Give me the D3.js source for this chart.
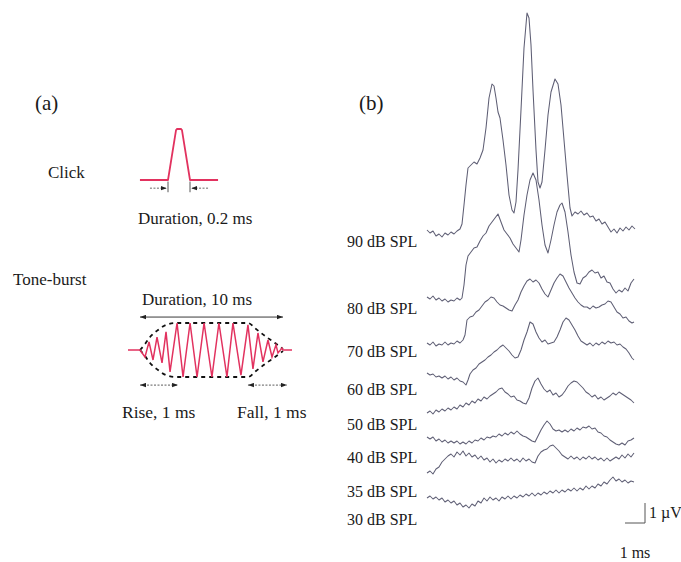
<!DOCTYPE html>
<html><head><meta charset="utf-8">
<script src="https://cdn.jsdelivr.net/npm/d3@7"></script>
<style>body{margin:0;background:#fff}svg{display:block}</style>
</head><body>
<script>
// ---------------- DATA ----------------
const levels = ["90 dB SPL","80 dB SPL","70 dB SPL","60 dB SPL","50 dB SPL","40 dB SPL","35 dB SPL","30 dB SPL"];
// ABR traces: [time (ms), amplitude (µV) relative to trace start]
const trace90 = [[0,0],[0.15,-0.15],[0.3,-0.05],[0.45,-0.3],[0.6,-0.2],[0.75,-0.35],[0.9,-0.15],[1.05,-0.25],[1.2,-0.1],[1.35,-0.2],[1.5,-0.05],[1.65,0.05],[1.75,0.3],[1.85,1.25],[1.95,2.25],[2.05,3.1],[2.2,3.25],[2.35,3.4],[2.5,3.3],[2.65,3.6],[2.8,4.0],[2.95,5.1],[3.1,6.6],[3.25,7.3],[3.35,7.2],[3.45,6.6],[3.55,5.9],[3.65,5.6],[3.8,4.5],[3.95,3.25],[4.1,1.75],[4.25,1.0],[4.35,0.85],[4.45,1.4],[4.55,3.0],[4.7,6.0],[4.85,9.1],[5.0,10.85],[5.1,10.6],[5.2,9.25],[5.3,7.0],[5.45,4.0],[5.55,2.4],[5.65,2.1],[5.75,2.4],[5.9,4.0],[6.05,5.75],[6.2,6.9],[6.4,7.55],[6.55,7.3],[6.7,6.25],[6.85,4.5],[7.0,2.75],[7.15,1.1],[7.25,0.7],[7.4,0.9],[7.55,0.8],[7.7,0.95],[7.85,0.75],[8.0,0.85],[8.15,0.65],[8.3,0.7],[8.45,0.45],[8.6,0.55],[8.75,0.3],[8.9,0.4],[9.05,0.15],[9.2,-0.1],[9.35,0.05],[9.5,-0.15],[9.65,0.1],[9.8,-0.05],[9.95,0.15],[10.1,0],[10.25,0.2],[10.4,0.05]];
const trace80 = [[0,0],[0.15,-0.1],[0.3,0.05],[0.45,-0.15],[0.6,-0.05],[0.75,-0.2],[0.9,-0.1],[1.05,-0.25],[1.2,-0.15],[1.35,-0.2],[1.5,-0.05],[1.65,-0.15],[1.75,-0.05],[1.85,0.6],[1.95,1.6],[2.05,2.05],[2.2,2.25],[2.35,2.45],[2.5,2.5],[2.65,2.8],[2.8,3.05],[2.95,3.2],[3.1,3.55],[3.25,3.75],[3.4,3.95],[3.55,4.15],[3.7,3.75],[3.85,3.35],[4.0,3.15],[4.15,2.95],[4.3,2.65],[4.45,2.45],[4.6,2.25],[4.7,2.85],[4.85,4.1],[5.0,5.1],[5.15,5.85],[5.3,6.2],[5.45,5.85],[5.6,4.85],[5.75,3.6],[5.9,2.6],[6.05,2.2],[6.2,2.85],[6.35,3.6],[6.5,4.25],[6.65,4.6],[6.75,4.7],[6.9,4.25],[7.05,3.25],[7.2,2.1],[7.35,1.25],[7.5,0.7],[7.65,0.65],[7.8,0.95],[7.95,1.05],[8.1,1.25],[8.25,1.35],[8.4,1.2],[8.55,1.25],[8.7,0.95],[8.85,1.05],[9.0,0.75],[9.15,0.7],[9.3,0.4],[9.45,0.2],[9.6,0.35],[9.75,0.25],[9.9,0.45],[10.05,0.3],[10.2,0.7],[10.35,0.9]];
const trace70 = [[0,0],[0.15,-0.1],[0.3,0.05],[0.45,-0.15],[0.6,-0.05],[0.75,-0.1],[0.9,0.05],[1.05,-0.1],[1.2,0],[1.35,-0.05],[1.5,0.1],[1.65,0],[1.8,0.15],[1.9,0.4],[2.0,1.15],[2.15,1.3],[2.3,1.35],[2.45,1.55],[2.6,1.65],[2.75,1.85],[2.9,2.05],[3.05,2.15],[3.2,2.3],[3.35,2.25],[3.5,2.05],[3.65,1.9],[3.8,1.85],[3.95,1.75],[4.1,1.65],[4.25,1.6],[4.4,1.9],[4.55,2.15],[4.7,2.55],[4.85,2.85],[5.0,3.1],[5.15,3.2],[5.3,3.05],[5.45,3.15],[5.6,3.0],[5.75,2.7],[5.9,2.45],[6.05,2.3],[6.2,2.65],[6.35,3.0],[6.5,3.25],[6.65,3.45],[6.8,3.35],[6.95,3.05],[7.1,2.75],[7.25,2.5],[7.4,2.25],[7.55,2.05],[7.7,1.9],[7.85,1.8],[8.0,1.8],[8.15,1.7],[8.3,1.85],[8.45,1.75],[8.6,1.8],[8.75,1.9],[8.9,1.95],[9.05,2.1],[9.2,2.05],[9.35,1.8],[9.5,1.55],[9.65,1.45],[9.8,1.25],[9.95,1.3],[10.1,1.1],[10.25,1.0],[10.35,1.05]];
const trace60 = [[0,0],[0.15,-0.1],[0.3,-0.05],[0.45,-0.2],[0.6,-0.15],[0.75,-0.25],[0.9,-0.15],[1.05,-0.3],[1.2,-0.2],[1.35,-0.35],[1.5,-0.25],[1.65,-0.4],[1.8,-0.45],[1.95,-0.6],[2.05,-0.35],[2.15,-0.05],[2.3,0.15],[2.45,0.25],[2.6,0.45],[2.75,0.55],[2.9,0.65],[3.05,0.8],[3.2,0.9],[3.35,1.05],[3.5,1.15],[3.65,1.3],[3.8,1.4],[3.95,1.25],[4.1,1.1],[4.25,0.9],[4.4,0.75],[4.55,0.8],[4.7,1.15],[4.85,1.65],[5.0,2.05],[5.15,2.55],[5.3,2.45],[5.45,2.05],[5.6,1.75],[5.75,1.55],[5.9,1.65],[6.05,1.45],[6.2,1.5],[6.35,1.55],[6.5,1.8],[6.65,2.15],[6.8,2.55],[6.95,2.75],[7.1,2.65],[7.25,2.4],[7.4,2.15],[7.55,1.85],[7.7,1.6],[7.85,1.5],[8.0,1.4],[8.15,1.5],[8.3,1.35],[8.45,1.5],[8.6,1.4],[8.75,1.55],[8.9,1.45],[9.05,1.6],[9.2,1.5],[9.35,1.55],[9.5,1.4],[9.65,1.45],[9.8,1.3],[9.95,1.2],[10.1,1.0],[10.25,0.75],[10.35,0.65]];
const trace50 = [[0,0],[0.15,0.1],[0.3,-0.05],[0.45,0.15],[0.6,0.05],[0.75,0.2],[0.9,0.1],[1.05,0.25],[1.2,0.15],[1.35,0.3],[1.5,0.2],[1.65,0.4],[1.8,0.3],[1.95,0.5],[2.1,0.4],[2.25,0.6],[2.4,0.5],[2.55,0.7],[2.7,0.6],[2.85,0.8],[3.0,0.7],[3.15,0.85],[3.3,0.95],[3.45,1.05],[3.6,1.2],[3.75,1.25],[3.9,1.05],[4.05,0.95],[4.2,0.8],[4.35,0.85],[4.5,0.65],[4.65,0.6],[4.8,0.5],[4.95,0.45],[5.1,0.75],[5.25,1.25],[5.4,1.6],[5.55,1.75],[5.7,1.45],[5.85,1.2],[6.0,1.05],[6.15,1.15],[6.3,0.9],[6.45,1.0],[6.6,0.8],[6.75,0.9],[6.9,1.1],[7.05,1.35],[7.2,1.5],[7.35,1.6],[7.5,1.55],[7.65,1.4],[7.8,1.25],[7.95,1.05],[8.1,0.95],[8.25,0.8],[8.4,0.9],[8.55,0.7],[8.7,0.8],[8.85,0.65],[9.0,0.75],[9.15,0.85],[9.3,1.0],[9.45,0.9],[9.6,1.05],[9.75,0.95],[9.9,0.85],[10.05,0.75],[10.2,0.65],[10.35,0.5]];
const trace40 = [[0,0],[0.15,-0.1],[0.3,0],[0.45,-0.2],[0.6,-0.1],[0.75,-0.25],[0.9,-0.15],[1.05,-0.3],[1.2,-0.2],[1.35,-0.3],[1.5,-0.2],[1.65,-0.35],[1.8,-0.25],[1.95,-0.35],[2.1,-0.2],[2.25,-0.3],[2.4,-0.15],[2.55,-0.2],[2.7,-0.05],[2.85,-0.15],[3.0,0],[3.15,-0.05],[3.3,0.05],[3.45,0],[3.6,0.15],[3.75,0.05],[3.9,0.2],[4.05,0.1],[4.2,0.25],[4.35,0.15],[4.5,0.3],[4.65,0.15],[4.8,0.05],[4.95,0],[5.1,-0.1],[5.25,-0.2],[5.4,-0.25],[5.55,0.05],[5.7,0.35],[5.85,0.6],[6.0,0.8],[6.15,0.65],[6.3,0.4],[6.45,0.3],[6.6,0.35],[6.75,0.25],[6.9,0.35],[7.05,0.25],[7.2,0.4],[7.35,0.3],[7.5,0.45],[7.65,0.35],[7.8,0.5],[7.95,0.45],[8.1,0.55],[8.25,0.4],[8.4,0.45],[8.55,0.25],[8.7,0.2],[8.85,0.05],[9.0,0],[9.15,-0.15],[9.3,-0.25],[9.45,-0.35],[9.6,-0.4],[9.75,-0.3],[9.9,-0.4],[10.05,-0.2],[10.2,-0.15],[10.35,-0.05]];
const trace35 = [[0,0],[0.15,0.1],[0.3,-0.05],[0.45,0.2],[0.6,0.3],[0.75,0.55],[0.9,0.7],[1.05,0.85],[1.2,0.95],[1.35,0.8],[1.5,1.05],[1.65,0.9],[1.8,1.1],[1.95,0.85],[2.1,1.0],[2.25,0.8],[2.4,0.9],[2.55,0.7],[2.7,0.85],[2.85,0.65],[3.0,0.75],[3.15,0.55],[3.3,0.7],[3.45,0.5],[3.6,0.65],[3.75,0.55],[3.9,0.7],[4.05,0.6],[4.2,0.75],[4.35,0.6],[4.5,0.7],[4.65,0.55],[4.8,0.75],[4.95,0.6],[5.1,0.7],[5.25,0.55],[5.4,0.5],[5.55,0.85],[5.7,1.05],[5.85,1.15],[6.0,1.2],[6.15,1.35],[6.3,1.4],[6.45,1.25],[6.6,1.1],[6.75,0.9],[6.9,0.8],[7.05,0.7],[7.2,0.85],[7.35,0.7],[7.5,0.8],[7.65,0.65],[7.8,0.8],[7.95,0.7],[8.1,0.85],[8.25,0.7],[8.4,0.8],[8.55,0.65],[8.7,0.75],[8.85,0.6],[9.0,0.75],[9.15,0.6],[9.3,0.7],[9.45,0.8],[9.6,0.7],[9.75,0.9],[9.9,0.75],[10.05,0.95],[10.2,0.8],[10.35,1.0]];
const trace30 = [[0,0],[0.15,0.1],[0.3,-0.05],[0.45,0.05],[0.6,-0.1],[0.75,0],[0.9,-0.2],[1.05,-0.1],[1.2,-0.25],[1.35,-0.15],[1.5,-0.35],[1.65,-0.25],[1.8,-0.45],[1.95,-0.35],[2.1,-0.5],[2.25,-0.3],[2.4,-0.4],[2.55,-0.15],[2.7,-0.25],[2.85,0],[3.0,-0.15],[3.15,0.05],[3.3,-0.1],[3.45,0],[3.6,-0.15],[3.75,0.05],[3.9,-0.05],[4.05,0.1],[4.2,-0.05],[4.35,0.1],[4.5,0],[4.65,0.15],[4.8,0.05],[4.95,0.2],[5.1,0.1],[5.25,0.25],[5.4,0.1],[5.55,0.25],[5.7,0.15],[5.85,0.3],[6.0,0.2],[6.15,0.35],[6.3,0.25],[6.45,0.4],[6.6,0.25],[6.75,0.4],[6.9,0.3],[7.05,0.45],[7.2,0.35],[7.35,0.5],[7.5,0.35],[7.65,0.5],[7.8,0.4],[7.95,0.6],[8.1,0.45],[8.25,0.6],[8.4,0.5],[8.55,0.7],[8.7,0.6],[8.85,0.8],[9.0,0.7],[9.15,0.9],[9.3,1.05],[9.45,0.85],[9.6,0.95],[9.75,0.8],[9.9,0.9],[10.05,0.75],[10.2,0.85],[10.35,0.8]];
const traces = [trace90, trace80, trace70, trace60, trace50, trace40, trace35, trace30];

// Stimulus schematics (panel a)
// click: [time (ms), normalised amplitude]
const clickWave = [[-0.255,0],[0,0],[0.073,0.98],[0.082,1],[0.118,1],[0.127,0.98],[0.2,0],[0.455,0]];
// tone-burst: [schematic time (ms), normalised amplitude]
const toneWave = [[-0.84,0],[0,0],[0.35,-0.26],[0.63,0.3],[0.91,-0.37],[1.19,0.48],[1.54,-0.48],[1.82,0.67],[2.1,-0.81],[2.59,1],[3.01,-1],[3.5,1],[3.99,-1],[4.48,1],[5.03,-1],[5.52,1],[6.08,-1],[6.5,1],[7.06,-0.93],[7.55,0.93],[7.9,-0.7],[8.25,0.63],[8.6,-0.44],[8.95,0.37],[9.23,-0.26],[9.51,0.19],[9.65,-0.11],[9.93,0.07],[10,0],[10.63,0]];
const toneEnvelope = [[0,0],[0.35,0.22],[0.7,0.48],[1.26,0.74],[1.82,0.93],[2.45,1],[7.55,1],[8.11,0.78],[8.74,0.52],[9.44,0.26],[10,0.04]];
const durationMs = 10, riseMs = 1, fallMs = 1, clickMs = 0.2;

// ---------------- LAYOUT ----------------
const W = 681, H = 562;
const traceOffsets = [0, 3.35, 5.65, 7.15, 9.15, 10.35, 12.15, 13.4]; // stacking (µV)
const labelY = [247, 314, 357, 395, 430, 463, 497, 525];
const traceColor = "#5e5e74", red = "#e2325f", ink = "#1a1a1a";
const serif = "'Liberation Serif','Times New Roman',serif";

const svg = d3.select("body").append("svg").attr("width", W).attr("height", H);
svg.append("rect").attr("width", W).attr("height", H).attr("fill", "#fff");

const defs = svg.append("defs");
defs.append("marker").attr("id","ah").attr("viewBox","0 0 8 6").attr("refX",8).attr("refY",3)
  .attr("markerWidth",6).attr("markerHeight",5).attr("markerUnits","userSpaceOnUse")
  .attr("orient","auto-start-reverse")
  .append("path").attr("d","M0,0L8,3L0,6Z").attr("fill","#222");

// ---- panel b ----
const x = d3.scaleLinear().domain([0, 10.4]).range([427, 635]);
const y = d3.scaleLinear().domain([0, -13.4]).range([230, 498]);

traces.forEach((tr, i) => {
  const off = traceOffsets[i];
  const line = d3.line().x(d => x(d[0])).y(d => y(d[1] - off));
  svg.append("path").datum(tr).attr("d", line).attr("fill","none")
    .attr("stroke", traceColor).attr("stroke-width", 1.05).attr("stroke-linejoin","round");
});

svg.selectAll("text.lvl").data(levels).enter().append("text").attr("class","lvl")
  .attr("x", 347).attr("y", (d, i) => labelY[i]).text(d => d)
  .attr("font-family", serif).attr("font-size", 16).attr("fill", ink);

// scale bars: 1 ms, 1 µV
const barT0 = 9.9, barV0 = -14.65;
svg.append("path").attr("d", `M${x(barT0)},${y(barV0)}H${x(barT0+1)}V${y(barV0+1)}`)
  .attr("fill","none").attr("stroke","#555").attr("stroke-width",1);
svg.append("text").attr("x", x(barT0+1)+4).attr("y", y(barV0+0.5)+5).text("1 µV")
  .attr("font-family", serif).attr("font-size", 16).attr("fill", ink);
svg.append("text").attr("x", x(barT0+0.5)).attr("y", 558).attr("text-anchor","middle").text("1 ms")
  .attr("font-family", serif).attr("font-size", 16).attr("fill", ink);

// panel letters
svg.append("text").attr("x",35).attr("y",110).text("(a)").attr("font-family",serif).attr("font-size",21).attr("fill",ink);
svg.append("text").attr("x",359).attr("y",110).text("(b)").attr("font-family",serif).attr("font-size",21).attr("fill",ink);

// ---- panel a : click ----
const cx = d3.scaleLinear().domain([0, clickMs]).range([168, 190]);
const ca = d3.scaleLinear().domain([0, 1]).range([180, 129]);
svg.append("path").datum(clickWave).attr("d", d3.line().x(d=>cx(d[0])).y(d=>ca(d[1])))
  .attr("fill","none").attr("stroke", red).attr("stroke-width", 1.8).attr("stroke-linejoin","round");
[0, clickMs].forEach(t => {
  svg.append("line").attr("x1",cx(t)).attr("x2",cx(t)).attr("y1",ca(-0.03)).attr("y2",ca(-0.24))
    .attr("stroke","#444").attr("stroke-width",0.9);
});
svg.append("line").attr("x1",cx(-0.164)).attr("x2",cx(-0.012)).attr("y1",ca(-0.16)).attr("y2",ca(-0.16))
  .attr("stroke","#444").attr("stroke-width",0.8).attr("stroke-dasharray","2,1.5").attr("marker-end","url(#ah)");
svg.append("line").attr("x1",cx(0.364)).attr("x2",cx(0.212)).attr("y1",ca(-0.16)).attr("y2",ca(-0.16))
  .attr("stroke","#444").attr("stroke-width",0.8).attr("stroke-dasharray","2,1.5").attr("marker-end","url(#ah)");
svg.append("text").attr("x",48).attr("y",178).text("Click").attr("font-family",serif).attr("font-size",17).attr("fill",ink);
svg.append("text").attr("x",138).attr("y",224).text("Duration, 0.2 ms").attr("font-family",serif).attr("font-size",17).attr("fill",ink);

// ---- panel a : tone-burst ----
const tx = d3.scaleLinear().domain([0, durationMs]).range([140, 283]);
const ta = d3.scaleLinear().domain([-1, 1]).range([377, 323]);
[1, -1].forEach(s => {
  svg.append("path").datum(toneEnvelope).attr("d", d3.line().x(d=>tx(d[0])).y(d=>ta(s*d[1])).curve(d3.curveMonotoneX))
    .attr("fill","none").attr("stroke","#111").attr("stroke-width",1.8).attr("stroke-dasharray","4,4");
});
svg.append("path").datum(toneWave).attr("d", d3.line().x(d=>tx(d[0])).y(d=>ta(d[1])))
  .attr("fill","none").attr("stroke", red).attr("stroke-width", 1.5).attr("stroke-linejoin","miter");
// duration arrow
svg.append("line").attr("x1",tx(0)).attr("x2",tx(durationMs)).attr("y1",ta(1.22)).attr("y2",ta(1.22))
  .attr("stroke","#222").attr("stroke-width",0.9).attr("marker-start","url(#ah)").attr("marker-end","url(#ah)");
// rise / fall arrows (drawn with the schematic's own spacing)
const riseEnd = 2.66, fallStart = 7.55, fallEnd = 10.28;
svg.append("line").attr("x1",tx(0)).attr("x2",tx(riseEnd)).attr("y1",ta(-1.3)).attr("y2",ta(-1.3))
  .attr("stroke","#333").attr("stroke-width",0.8).attr("stroke-dasharray","2,1.5").attr("marker-start","url(#ah)").attr("marker-end","url(#ah)");
svg.append("line").attr("x1",tx(fallStart)).attr("x2",tx(fallEnd)).attr("y1",ta(-1.3)).attr("y2",ta(-1.3))
  .attr("stroke","#333").attr("stroke-width",0.8).attr("stroke-dasharray","2,1.5").attr("marker-start","url(#ah)").attr("marker-end","url(#ah)");

svg.append("text").attr("x",13).attr("y",285).text("Tone-burst").attr("font-family",serif).attr("font-size",17).attr("fill",ink);
svg.append("text").attr("x",142).attr("y",305).text(`Duration, ${durationMs} ms`).attr("font-family",serif).attr("font-size",17).attr("fill",ink);
svg.append("text").attr("x",122).attr("y",418).text(`Rise, ${riseMs} ms`).attr("font-family",serif).attr("font-size",17.5).attr("fill",ink);
svg.append("text").attr("x",237).attr("y",418).text(`Fall, ${fallMs} ms`).attr("font-family",serif).attr("font-size",17.5).attr("fill",ink);
</script>
</body></html>
